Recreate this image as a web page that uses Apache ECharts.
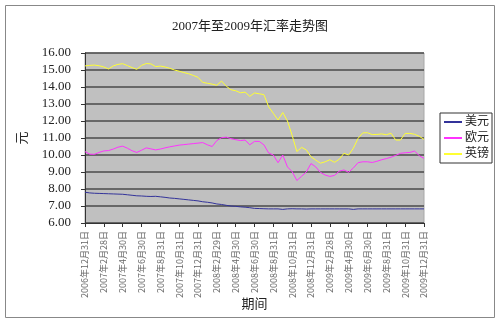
<!DOCTYPE html>
<html><head><meta charset="utf-8">
<script src="https://cdn.jsdelivr.net/npm/echarts@6/dist/echarts.min.js"></script>
<style>html,body{margin:0;padding:0;background:#fff}#c{width:500px;height:323px}</style>
</head><body><div id="c"></div>
<script>
const categories = [
"2006年12月31日","2007年1月15日","2007年1月31日","2007年2月15日","2007年2月28日","2007年3月15日","2007年3月31日","2007年4月15日","2007年4月30日","2007年5月15日","2007年5月31日","2007年6月15日","2007年6月30日","2007年7月15日","2007年7月31日","2007年8月15日","2007年8月31日","2007年9月15日","2007年9月30日","2007年10月15日","2007年10月31日","2007年11月15日","2007年11月30日","2007年12月15日","2007年12月31日",
"2008年1月15日","2008年1月31日","2008年2月15日","2008年2月29日","2008年3月15日","2008年3月31日","2008年4月15日","2008年4月30日","2008年5月15日","2008年5月31日","2008年6月15日","2008年6月30日","2008年7月15日","2008年7月31日","2008年8月15日","2008年8月31日","2008年9月15日","2008年9月30日","2008年10月15日","2008年10月31日","2008年11月15日","2008年11月30日","2008年12月15日","2008年12月31日",
"2009年1月15日","2009年1月31日","2009年2月15日","2009年2月28日","2009年3月15日","2009年3月31日","2009年4月15日","2009年4月30日","2009年5月15日","2009年5月31日","2009年6月15日","2009年6月30日","2009年7月15日","2009年7月31日","2009年8月15日","2009年8月31日","2009年9月15日","2009年9月30日","2009年10月15日","2009年10月31日","2009年11月15日","2009年11月30日","2009年12月15日","2009年12月31日"];

const usd = [7.81,7.77,7.75,7.74,7.73,7.72,7.71,7.70,7.69,7.66,7.63,7.60,7.59,7.57,7.56,7.57,7.54,7.51,7.47,7.45,7.42,7.39,7.36,7.33,7.30,
7.25,7.22,7.18,7.12,7.09,7.04,7.00,6.98,6.95,6.93,6.90,6.86,6.85,6.84,6.83,6.83,6.83,6.80,6.83,6.84,6.83,6.83,6.82,6.83,
6.83,6.83,6.83,6.83,6.83,6.83,6.83,6.83,6.80,6.83,6.83,6.83,6.83,6.83,6.83,6.83,6.83,6.83,6.83,6.83,6.83,6.83,6.83,6.83];

const eur = [10.20,10.05,10.04,10.15,10.24,10.26,10.35,10.46,10.52,10.40,10.25,10.15,10.28,10.42,10.36,10.30,10.35,10.42,10.48,10.53,10.58,10.61,10.64,10.67,10.70,
10.73,10.60,10.50,10.85,11.02,11.05,10.96,10.90,10.85,10.88,10.60,10.80,10.80,10.60,10.12,10.00,9.55,10.00,9.30,9.02,8.50,8.75,9.00,9.50,
9.30,8.98,8.82,8.74,8.80,9.05,9.12,8.98,9.24,9.55,9.60,9.60,9.56,9.63,9.72,9.79,9.87,9.98,10.10,10.13,10.15,10.23,9.96,9.80];

const gbp = [15.24,15.27,15.29,15.25,15.18,15.06,15.24,15.33,15.37,15.26,15.14,15.04,15.27,15.38,15.36,15.20,15.23,15.18,15.10,15.00,14.93,14.85,14.78,14.68,14.57,
14.27,14.22,14.17,14.10,14.35,14.05,13.84,13.78,13.66,13.70,13.45,13.65,13.60,13.55,12.84,12.45,12.06,12.50,12.00,11.15,10.20,10.45,10.30,9.90,
9.70,9.52,9.60,9.72,9.57,9.75,10.10,10.00,10.40,10.98,11.30,11.31,11.20,11.21,11.24,11.19,11.28,10.88,10.88,11.27,11.27,11.22,11.10,10.92];

const seriesNames = ["美元","欧元","英镑"];
const yTicks = {min: 6, max: 16, interval: 1};

const serif = "'Liberation Serif','Noto Sans CJK SC',serif";
const chart = echarts.init(document.getElementById('c'));
const showEvery4 = (i) => i % 4 === 0;
chart.setOption({
  animation: false,
  backgroundColor: '#fff',
  title: {text: '2007年至2009年汇率走势图', left: 'center', top: 15,
    textStyle: {fontFamily: serif, fontSize: 13, fontWeight: 'normal', color: '#222'}},
  graphic: [{type: 'rect', shape: {x: 5.5, y: 5.5, width: 489, height: 312},
    style: {fill: 'none', stroke: '#888', lineWidth: 1}, silent: true}],
  legend: {
    orient: 'vertical', left: 440, top: 113, itemGap: 4,
    itemWidth: 18, itemHeight: 2,
    data: seriesNames.map(n => ({name: n, icon: 'rect'})),
    borderColor: '#333', borderWidth: 1, padding: [3, 3, 3, 4],
    textStyle: {fontFamily: serif, fontSize: 12, color: '#222', padding: [0,0,0,-2]}
  },
  grid: {left: 85, right: 76, top: 53, bottom: 100, show: true,
    backgroundColor: '#c0c0c0', borderColor: '#a8a8a8', borderWidth: 1},
  xAxis: {
    type: 'category', data: categories, boundaryGap: false,
    name: '期间', nameLocation: 'middle', nameGap: 75, nameMoveOverlap: false,
    nameTextStyle: {fontFamily: serif, fontSize: 13, color: '#222'},
    axisLine: {lineStyle: {color: '#333', width: 1}},
    axisTick: {show: true, interval: showEvery4, length: 4, inside: false, lineStyle: {color: '#333'}},
    axisLabel: {interval: showEvery4, rotate: 90, fontSize: 9, color: '#666',
      fontFamily: "'Noto Sans CJK SC',sans-serif", margin: 8},
    splitLine: {show: false}
  },
  yAxis: {
    type: 'value', min: yTicks.min, max: yTicks.max, interval: yTicks.interval,
    name: '元', nameLocation: 'middle', nameGap: 56, nameRotate: 90, nameMoveOverlap: false,
    nameTextStyle: {fontFamily: serif, fontSize: 13, color: '#222'},
    axisLine: {show: true, lineStyle: {color: '#333'}},
    axisTick: {show: true, length: 4, lineStyle: {color: '#333'}},
    axisLabel: {formatter: v => v.toFixed(2), fontFamily: serif, fontSize: 13, color: '#222', margin: 14},
    splitLine: {show: true, lineStyle: {color: '#4a4a4a', width: 1.5}}
  },
  series: [
    {name: seriesNames[0], type: 'line', data: usd, showSymbol: false, lineStyle: {color: '#33339a', width: 1}, itemStyle: {color: '#33339a'}},
    {name: seriesNames[1], type: 'line', data: eur, showSymbol: false, lineStyle: {color: '#ff33ff', width: 1}, itemStyle: {color: '#ff33ff'}},
    {name: seriesNames[2], type: 'line', data: gbp, showSymbol: false, lineStyle: {color: '#ffff33', width: 1}, itemStyle: {color: '#ffff33'}}
  ]
});
</script></body></html>
